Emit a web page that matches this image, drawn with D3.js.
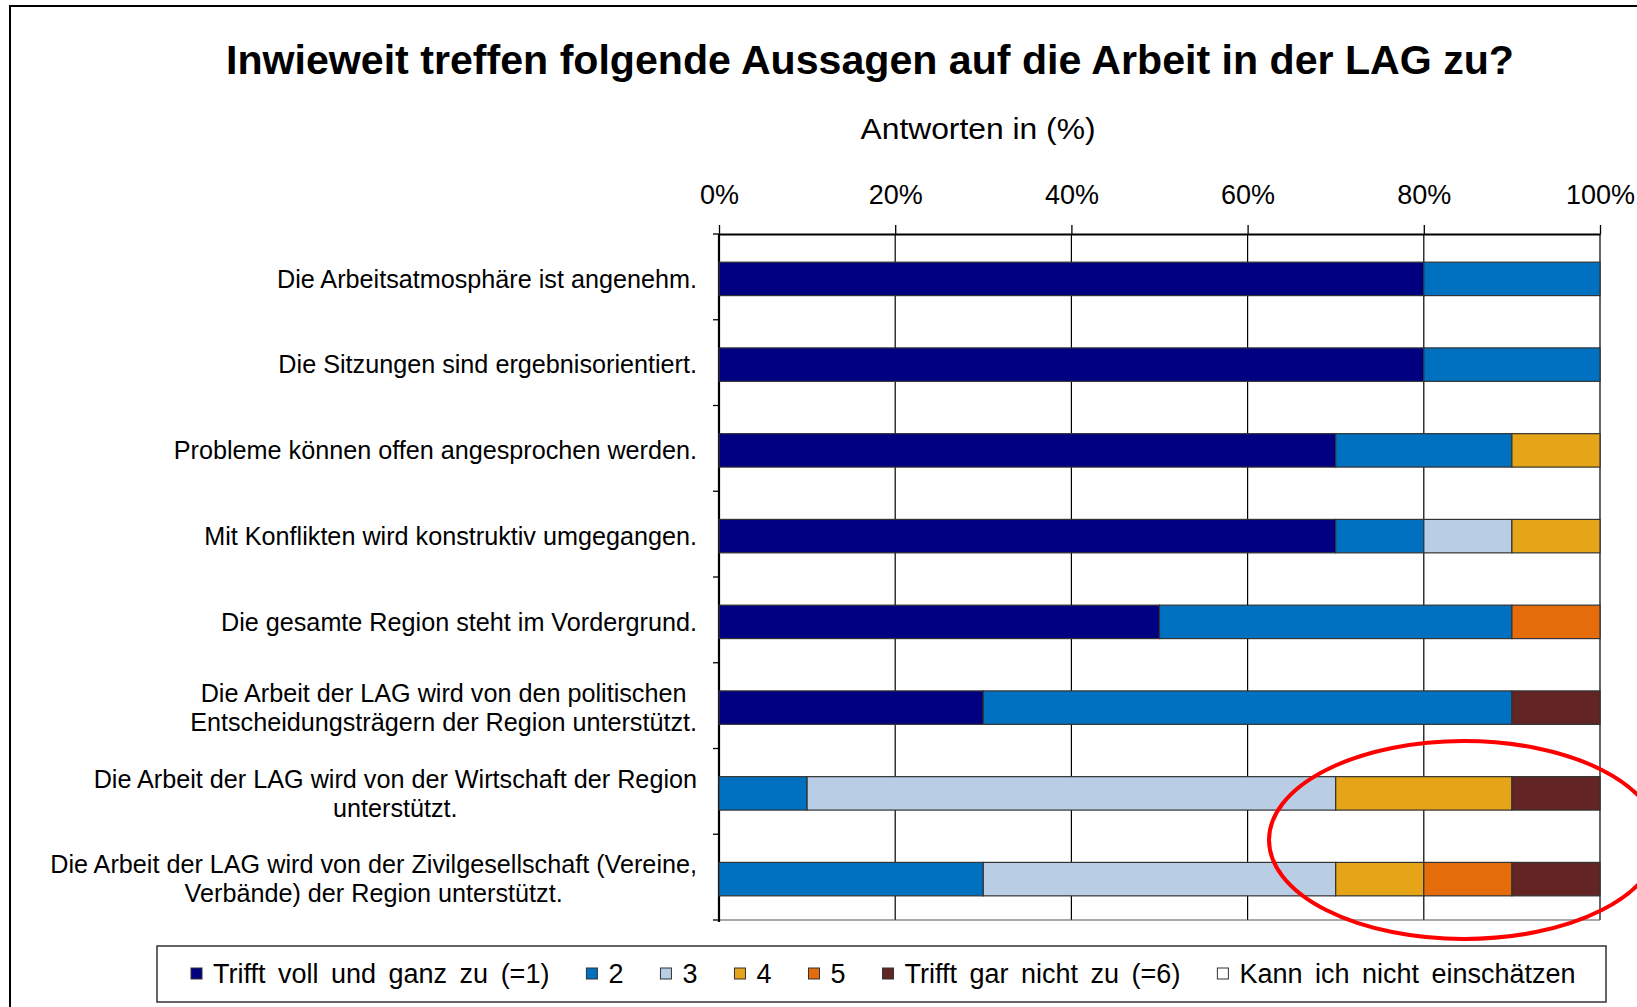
<!DOCTYPE html>
<html>
<head>
<meta charset="utf-8">
<script src="https://cdn.jsdelivr.net/npm/d3@7"></script>
<style>
  body { margin: 0; background: #fff; }
  svg { display: block; font-family: "Liberation Sans", Arial, sans-serif; }
</style>
</head>
<body>
<svg id="chart" width="1637" height="1007"></svg>
<script>
const categories = [
  ["Die Arbeitsatmosphäre ist angenehm."],
  ["Die Sitzungen sind ergebnisorientiert."],
  ["Probleme können offen angesprochen werden."],
  ["Mit Konflikten wird konstruktiv umgegangen."],
  ["Die gesamte Region steht im Vordergrund."],
  ["Die Arbeit der LAG wird von den politischen", "Entscheidungsträgern der Region unterstützt."],
  ["Die Arbeit der LAG wird von der Wirtschaft der Region", "unterstützt."],
  ["Die Arbeit der LAG wird von der Zivilgesellschaft (Vereine,", "Verbände) der Region unterstützt."]
];
const seriesNames = ["Trifft voll und ganz zu (=1)", "2", "3", "4", "5", "Trifft gar nicht zu (=6)", "Kann ich nicht einschätzen"];
const colors = ["#000080", "#0070c0", "#b9cde5", "#e6a519", "#e46c0a", "#632523", "#ffffff"];

// Antworten in % je Aussage
const s1 = [80, 80, 70, 70, 50, 30, 0, 0];
const s2 = [20, 20, 20, 10, 40, 60, 10, 30];
const s3 = [0, 0, 0, 10, 0, 0, 60, 40];
const s4 = [0, 0, 10, 10, 0, 0, 20, 10];
const s5 = [0, 0, 0, 0, 10, 0, 0, 10];
const s6 = [0, 0, 0, 0, 0, 10, 10, 10];
const s7 = [0, 0, 0, 0, 0, 0, 0, 0];
const tickValues = [0, 20, 40, 60, 80, 100];

const title = "Inwieweit treffen  folgende Aussagen  auf die Arbeit in der LAG zu?";
const subtitle = "Antworten in (%)";

const allSeries = [s1, s2, s3, s4, s5, s6, s7];
const rows = categories.map((c, i) => {
  const r = { key: i };
  seriesNames.forEach((n, j) => r[n] = allSeries[j][i]);
  return r;
});

const svg = d3.select('#chart');

// outer frame
svg.append('rect')
  .attr('x', 10).attr('y', 6)
  .attr('width', 1700).attr('height', 1100)
  .attr('fill', 'none').attr('stroke', '#000').attr('stroke-width', 2);

const plot = { left: 719, right: 1600, top: 234, bottom: 920 };

const x = d3.scaleLinear().domain([0, 100]).range([plot.left, plot.right]);
const y = d3.scaleBand()
  .domain(d3.range(categories.length))
  .range([plot.top + 2, plot.bottom + 2])
  .paddingInner(0.61)
  .paddingOuter(0.305);

// title
svg.append('text')
  .attr('x', 870).attr('y', 74)
  .attr('text-anchor', 'middle')
  .attr('font-size', 40).attr('font-weight', 'bold')
  .attr('textLength', 1288).attr('lengthAdjust', 'spacingAndGlyphs')
  .text(title);

svg.append('text')
  .attr('x', 978).attr('y', 139)
  .attr('text-anchor', 'middle')
  .attr('font-size', 29)
  .attr('textLength', 235).attr('lengthAdjust', 'spacingAndGlyphs')
  .text(subtitle);

// gridlines
svg.append('g')
  .selectAll('line')
  .data(tickValues.slice(1))
  .join('line')
  .attr('x1', d => x(d)).attr('x2', d => x(d))
  .attr('y1', plot.top).attr('y2', plot.bottom)
  .attr('stroke', '#000').attr('stroke-width', 1.2);

// bottom border
svg.append('line')
  .attr('x1', plot.left).attr('x2', plot.right)
  .attr('y1', plot.bottom).attr('y2', plot.bottom)
  .attr('stroke', '#555').attr('stroke-width', 1.2);

// top axis
const xAxis = svg.append('g')
  .attr('transform', `translate(0,${plot.top})`)
  .call(d3.axisTop(x).tickValues(tickValues).tickFormat(d => d + '%').tickSize(9).tickSizeOuter(0));
xAxis.select('.domain').attr('stroke', '#000').attr('stroke-width', 2.2);
xAxis.selectAll('.tick line').attr('stroke', '#000').attr('stroke-width', 1.3);
xAxis.selectAll('.tick text')
  .attr('font-family', '"Liberation Sans", Arial, sans-serif')
  .attr('font-size', 27).attr('fill', '#000')
  .attr('y', -39).attr('dy', '0.32em');

// left axis line with ticks at band boundaries
const boundaries = d3.range(categories.length + 1).map(i => plot.top + i * y.step());
svg.append('line')
  .attr('x1', plot.left).attr('x2', plot.left)
  .attr('y1', plot.top).attr('y2', plot.bottom + 2)
  .attr('stroke', '#000').attr('stroke-width', 2.2);
svg.append('g')
  .selectAll('line')
  .data(boundaries)
  .join('line')
  .attr('x1', plot.left - 6).attr('x2', plot.left)
  .attr('y1', d => d).attr('y2', d => d)
  .attr('stroke', '#000').attr('stroke-width', 1.3);

// stacked bars
const stack = d3.stack().keys(seriesNames);
const layers = stack(rows);

svg.append('g')
  .selectAll('g')
  .data(layers)
  .join('g')
  .attr('fill', (d, i) => colors[i])
  .selectAll('rect')
  .data(d => d.filter(p => p[1] - p[0] > 0))
  .join('rect')
  .attr('x', d => x(d[0]))
  .attr('width', d => x(d[1]) - x(d[0]))
  .attr('y', d => y(d.data.key))
  .attr('height', y.bandwidth())
  .attr('stroke', '#333').attr('stroke-width', 1.2);

// category labels
const labelRight = 697;
const lineGap = 29;
const labels = svg.append('g')
  .attr('font-size', 25.2).attr('fill', '#000');

categories.forEach((lines, i) => {
  const cy = y(i) + y.bandwidth() / 2;
  const g = labels.append('g');
  const texts = lines.map((t, k) => g.append('text')
    .attr('y', cy + (k - (lines.length - 1) / 2) * lineGap)
    .attr('dy', '0.35em')
    .attr('text-anchor', 'middle')
    .text(t));
  const maxW = d3.max(texts, t => t.node().getComputedTextLength());
  texts.forEach(t => t.attr('x', labelRight - maxW / 2));
});

// legend
const legend = svg.append('g');
legend.append('rect')
  .attr('x', 157).attr('y', 946)
  .attr('width', 1449).attr('height', 56)
  .attr('fill', '#fff').attr('stroke', '#333').attr('stroke-width', 1.5);

let lx = 191;
const ly = 974;
seriesNames.forEach((n, i) => {
  legend.append('rect')
    .attr('x', lx).attr('y', ly - 6)
    .attr('width', 11).attr('height', 11)
    .attr('fill', colors[i]).attr('stroke', '#333').attr('stroke-width', 1);
  const t = legend.append('text')
    .attr('x', lx + 22).attr('y', ly)
    .attr('dy', '0.35em')
    .attr('font-size', 27)
    .attr('word-spacing', 5)
    .text(n);
  lx += 22 + t.node().getComputedTextLength() + 37;
});

// red highlight ellipse
svg.append('ellipse')
  .attr('cx', 1464).attr('cy', 840)
  .attr('rx', 195).attr('ry', 99)
  .attr('fill', 'none').attr('stroke', '#ff0000').attr('stroke-width', 4);
</script>
</body>
</html>
